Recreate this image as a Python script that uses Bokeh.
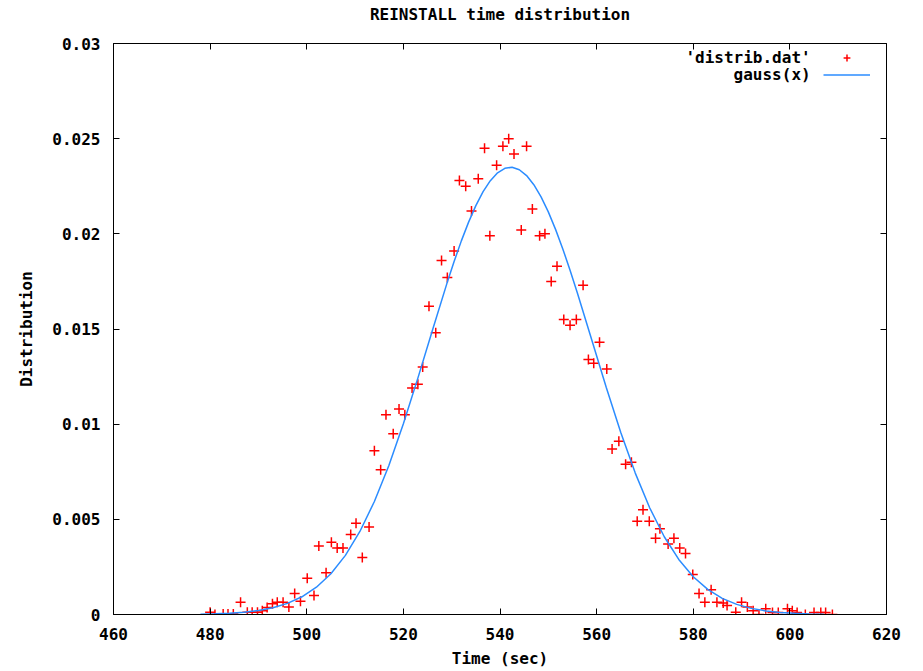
from bokeh.plotting import figure
from bokeh.models import Range1d, FixedTicker, LinearAxis, Legend, LegendItem, Label
from bokeh.embed import file_html
from bokeh.resources import INLINE

# 'distrib.dat' measured points
data_x = [480.0, 481.0, 482.7, 483.7, 484.8, 486.3, 487.7, 488.7, 489.8, 490.8,
          491.8, 492.9, 493.9, 495.1, 496.3, 497.5, 498.7, 500.1, 501.5, 502.5,
          504.0, 505.1, 506.3, 507.5, 509.1, 510.2, 511.5, 512.9, 514.0, 515.3,
          516.4, 517.9, 519.1, 520.3, 521.8, 523.0, 524.0, 525.3, 526.7, 527.9,
          529.1, 530.5, 531.6, 532.9, 534.1, 535.5, 536.8, 537.9, 539.3, 540.6,
          541.8, 542.9, 544.4, 545.5, 546.7, 548.2, 549.3, 550.6, 551.8, 553.2,
          554.5, 555.8, 557.2, 558.3, 559.4, 560.6, 562.1, 563.2, 564.6, 566.0,
          567.2, 568.4, 569.6, 570.9, 572.2, 573.1, 574.8, 576.0, 577.2, 578.4,
          579.9, 581.2, 582.4, 583.7, 584.9, 586.2, 587.0, 588.8, 590.0, 591.2,
          592.4, 593.6, 595.0, 596.4, 597.6, 599.5, 600.5, 601.5, 603.2, 605.0,
          606.4, 607.4, 608.8]
data_y = [0.00012, 0.0, 0.00003, 0.00003, 0.00003, 0.00065, 0.00012, 0.00012, 0.00012, 0.0002,
          0.00037, 0.00056, 0.00065, 0.00065, 0.0004, 0.0011, 0.0007, 0.0019, 0.0010, 0.0036,
          0.0022, 0.0038, 0.0035, 0.0035, 0.0042, 0.0048, 0.0030, 0.0046, 0.0086, 0.0076,
          0.0105, 0.0095, 0.0108, 0.0105, 0.0119, 0.0121, 0.0130, 0.0162, 0.0148, 0.0186,
          0.0177, 0.0191, 0.0228, 0.0225, 0.0212, 0.0229, 0.0245, 0.0199, 0.0236, 0.0246,
          0.0250, 0.0242, 0.0202, 0.0246, 0.0213, 0.0199, 0.0200, 0.0175, 0.0183, 0.0155,
          0.0152, 0.0155, 0.0173, 0.0134, 0.0132, 0.0143, 0.0129, 0.0087, 0.0091, 0.0079,
          0.0080, 0.0049, 0.0055, 0.0049, 0.0040, 0.0045, 0.0037, 0.0040, 0.0035, 0.0032,
          0.0021, 0.0011, 0.00065, 0.0013, 0.00065, 0.0006, 0.00047, 0.00012, 0.00065, 0.0004,
          0.0002, 0.0, 0.0003, 0.0001, 0.0001, 0.0003, 0.0002, 0.0001, 0.0, 0.0001,
          0.0001, 0.0001, 0.0]

# gauss(x) curve, values
gauss_x = [478, 481, 484, 487, 490, 493, 496, 499, 502, 505, 508, 511, 514, 517, 520,
           523, 526, 529, 530.5, 532, 533.5, 535, 536.5, 538, 539.5, 541, 542.5, 544,
           545.5, 547, 548.5, 550, 551.5, 553, 554.5, 556, 559, 562, 565,
           568, 571, 574, 577, 580, 583, 586, 589, 592, 595, 598, 601, 604, 607]
gauss_y = [0.0000188, 0.0000361, 0.0000670, 0.000121, 0.000211, 0.000357, 0.000585,
           0.000931, 0.001435, 0.002145, 0.003106, 0.004362, 0.005937, 0.007833,
           0.010018, 0.012420, 0.014925, 0.017385, 0.018544, 0.019630, 0.020616,
           0.021484, 0.022215, 0.022795, 0.023206, 0.023441, 0.023496, 0.023369,
           0.023061, 0.022581, 0.021940, 0.021152, 0.020234, 0.019207, 0.018088,
           0.016904, 0.014422, 0.011926, 0.009560, 0.007428, 0.005595, 0.004086,
           0.002893, 0.001984, 0.001319, 0.000850, 0.000532, 0.000322, 0.000189,
           0.000108, 0.0000593, 0.0000317, 0.0000164]

x_ticks = [460, 480, 500, 520, 540, 560, 580, 600, 620]
y_ticks = [0.0, 0.005, 0.01, 0.015, 0.02, 0.025, 0.03]
y_tick_labels = ["0", "0.005", "0.01", "0.015", "0.02", "0.025", "0.03"]

FONT = "DejaVu Sans Mono"
FS = "16px"
RED = "#ff0000"
BLUE = "#2b8cff"

p = figure(width=923, height=671, output_backend="svg", toolbar_location=None,
           x_range=Range1d(460, 620), y_range=Range1d(0, 0.03),
           min_border_left=113, min_border_right=37, min_border_top=43,
           min_border_bottom=57)

p.grid.visible = False
p.outline_line_color = "black"
p.outline_line_width = 1
p.background_fill_color = "white"
p.border_fill_color = "white"

for ax in (p.xaxis[0], p.yaxis[0]):
    ax.major_tick_in = 6
    ax.major_tick_out = 0
    ax.minor_tick_line_color = None
    ax.axis_line_color = "black"
    ax.major_tick_line_color = "black"
    ax.major_label_text_font = FONT
    ax.major_label_text_font_size = FS
    ax.major_label_text_font_style = "bold"
    ax.major_label_text_color = "black"
    ax.axis_label_text_font = FONT
    ax.axis_label_text_font_size = FS
    ax.axis_label_text_font_style = "bold"
    ax.axis_label_text_color = "black"

p.xaxis[0].ticker = FixedTicker(ticks=x_ticks)
p.xaxis[0].axis_label = "Time (sec)"
p.xaxis[0].major_label_standoff = 13
p.xaxis[0].axis_label_standoff = 6

p.yaxis[0].ticker = FixedTicker(ticks=y_ticks)
p.yaxis[0].major_label_overrides = {t: s for t, s in zip(y_ticks, y_tick_labels)}
p.yaxis[0].axis_label = "Distribution"
p.yaxis[0].major_label_standoff = 13
p.yaxis[0].axis_label_standoff = 13

# mirror ticks on the right and top; the top axis carries the chart title
ax_r = LinearAxis(ticker=FixedTicker(ticks=y_ticks), major_tick_in=6, major_tick_out=0,
                  minor_tick_line_color=None, axis_line_color=None,
                  major_tick_line_color="black", major_label_standoff=0,
                  major_label_overrides={t: "" for t in y_ticks})
p.add_layout(ax_r, "right")
ax_t = LinearAxis(ticker=FixedTicker(ticks=x_ticks), major_tick_in=6, major_tick_out=0,
                  minor_tick_line_color=None, axis_line_color=None,
                  major_tick_line_color="black", major_label_standoff=0,
                  major_label_overrides={t: "" for t in x_ticks},
                  axis_label="REINSTALL time distribution", axis_label_standoff=20,
                  axis_label_text_font=FONT, axis_label_text_font_size=FS,
                  axis_label_text_font_style="bold", axis_label_text_color="black")
p.add_layout(ax_t, "above")

r_pts = p.scatter(data_x, data_y, marker="cross", size=10, line_color=RED, line_width=1.5)
r_line = p.line(gauss_x, gauss_y, line_color=BLUE, line_width=1.5)

legend = Legend(items=[LegendItem(label="", renderers=[r_pts]),
                       LegendItem(label="", renderers=[r_line])],
                location=(710, 531.5), orientation="vertical",
                glyph_width=47, glyph_height=17, label_width=0, label_standoff=0,
                label_height=0, padding=0, margin=0, spacing=0,
                border_line_color=None, background_fill_alpha=0,
                label_text_font_size="1px")
p.add_layout(legend)

for txt, yy in (("'distrib.dat'", 0.02927), ("gauss(x)", 0.02838)):
    p.add_layout(Label(x=604.3, y=yy, text=txt, text_align="right", text_baseline="middle",
                       text_font=FONT, text_font_size=FS, text_font_style="bold",
                       text_color="black"))

open("out.html", "w").write(file_html(p, INLINE))
